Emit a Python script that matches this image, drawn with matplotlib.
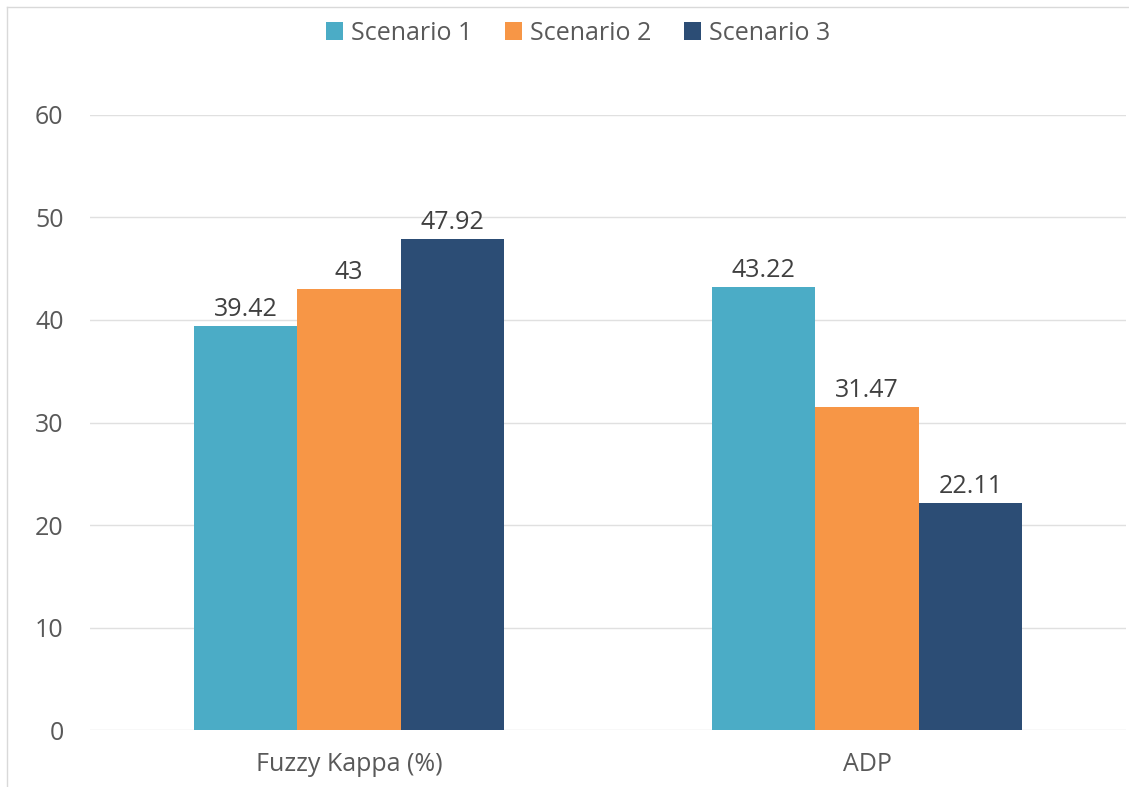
import numpy as np
import matplotlib
matplotlib.use("Agg")
import matplotlib.pyplot as plt
from matplotlib.lines import Line2D

# data
categories = ["Fuzzy Kappa (%)", "ADP"]
series_names = ["Scenario 1", "Scenario 2", "Scenario 3"]
scenario1 = [39.42, 43.22]
scenario2 = [43, 31.47]
scenario3 = [47.92, 22.11]
labels1 = ["39.42", "43.22"]
labels2 = ["43", "31.47"]
labels3 = ["47.92", "22.11"]
colors = ["#4BACC6", "#F79646", "#2C4D75"]

plt.rcParams['font.family'] = ['Open Sans', 'DejaVu Sans']
text_color = "#595959"

fig = plt.figure(figsize=(11.29, 7.87), dpi=100)
ax = fig.add_axes([0.0797, 0.0724, 0.9176, 0.7815])

x = np.arange(len(categories))
width = 0.2
all_vals = [scenario1, scenario2, scenario3]
all_labels = [labels1, labels2, labels3]
for i, (vals, labs) in enumerate(zip(all_vals, all_labels)):
    bars = ax.bar(x + (i - 1) * width, vals, width, color=colors[i],
                  label=series_names[i], zorder=3)
    ax.bar_label(bars, labels=labs, padding=3, fontsize=18, color="#404040")

ax.set_xlim(-0.5, 1.5)
ax.set_ylim(0, 60)
ax.set_yticks(range(0, 61, 10))
ax.set_xticks(x)
ax.set_xticklabels(categories)
ax.tick_params(axis='both', length=0, labelsize=18, labelcolor=text_color)
ax.tick_params(axis='y', pad=19)
ax.tick_params(axis='x', pad=16)
ax.grid(axis='y', color="#E0E0E0", linewidth=1, zorder=0)
for s in ax.spines.values():
    s.set_visible(False)

ax.legend(loc='center', bbox_to_anchor=(0.471, 1.133), ncol=3, frameon=False,
          fontsize=18, labelcolor=text_color, handlelength=0.7, handleheight=0.7,
          handletextpad=0.3, columnspacing=1.3)

# light border of the chart area
fig.add_artist(Line2D([7 / 1129, 1], [1 - 7 / 787, 1 - 7 / 787], color="#D9D9D9", linewidth=1))
fig.add_artist(Line2D([7 / 1129, 7 / 1129], [0, 1 - 7 / 787], color="#D9D9D9", linewidth=1))

fig.savefig("out.png", dpi=100, facecolor="white")
